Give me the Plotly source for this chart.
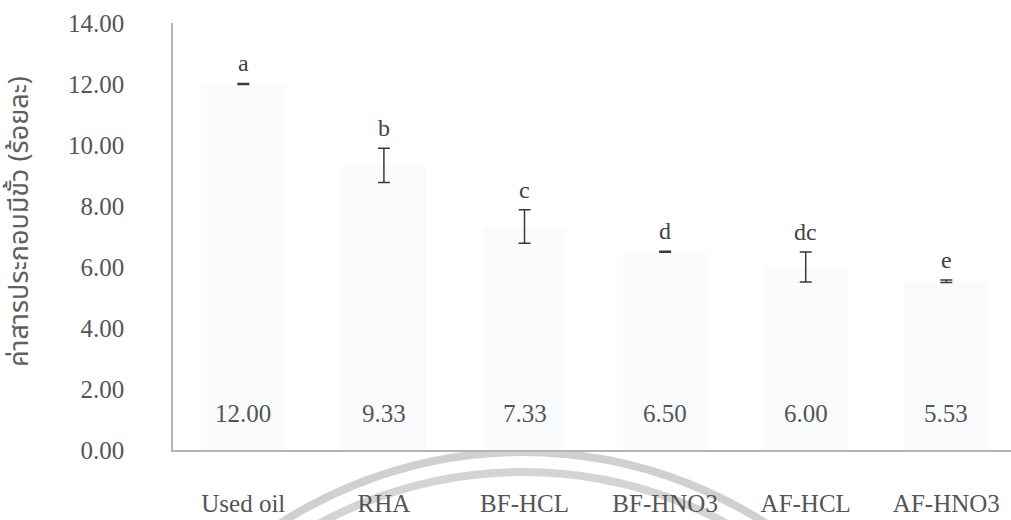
import plotly.graph_objects as go

categories = ["Used oil", "RHA", "BF-HCL", "BF-HNO3", "AF-HCL", "AF-HNO3"]
values = [12.00, 9.33, 7.33, 6.50, 6.00, 5.53]
errors = [0.02, 0.56, 0.55, 0.02, 0.49, 0.04]
letters = ["a", "b", "c", "d", "dc", "e"]
y_ticks = [0, 2, 4, 6, 8, 10, 12, 14]
y_title = "ค่าสารประกอบมีขั้ว (ร้อยละ)"

SERIF = "Liberation Serif"
TXT = "#555555"

fig = go.Figure()
fig.add_trace(go.Bar(
    x=categories, y=values,
    marker=dict(color="#fafbfd", line=dict(width=0)),
    width=0.6,
    error_y=dict(type="data", array=errors, visible=True,
                 color="#3a3a3a", thickness=1.5, width=6),
    hoverinfo="skip",
))

# value labels near the base of each bar
for c, v in zip(categories, values):
    fig.add_annotation(x=c, y=1.2, text=f"{v:.2f}", showarrow=False,
                       font=dict(family=SERIF, size=25, color=TXT),
                       xanchor="center", yanchor="middle")

# significance letters above error bars
for c, v, e, l in zip(categories, values, errors, letters):
    fig.add_annotation(x=c, y=v + e, text=l, showarrow=False,
                       font=dict(family=SERIF, size=24, color="#444444"),
                       xanchor="center", yanchor="bottom", yshift=5)

# y-axis title (Thai)
L, R, T, B, W, H = 173, 0, 23, 70, 1011, 520
pw, ph = W - L - R, H - T - B
fig.add_annotation(xref="paper", yref="paper",
                   x=(20 - L) / pw, y=(T + ph - 222) / ph,
                   text=y_title, textangle=-90, showarrow=False,
                   font=dict(family="Noto Sans Thai, Tlwg Typo, Loma, Garuda, sans-serif",
                             size=27, color="#606060"),
                   xanchor="center", yanchor="middle")

# faint watermark arcs at the bottom
def px2paper_x(px):
    return (px - L) / pw

def px2paper_y(py):
    return (T + ph - py) / ph

for r, col in [(448, "#d0d0d0"), (428, "#d4d4d4")]:
    cx, cy = 523, 900
    fig.add_shape(type="circle", xref="paper", yref="paper",
                  x0=px2paper_x(cx - r), x1=px2paper_x(cx + r),
                  y0=px2paper_y(cy + r), y1=px2paper_y(cy - r),
                  line=dict(color=col, width=8), layer="below")

fig.update_layout(
    width=W, height=H,
    margin=dict(l=L, r=R, t=T, b=B, autoexpand=False),
    paper_bgcolor="white", plot_bgcolor="white",
    showlegend=False,
    bargap=0.4,
    xaxis=dict(range=[-0.5, 5.46], showline=True, linecolor="#b4b4b4", linewidth=1.5,
               showgrid=False, zeroline=False, ticks="", automargin=False,
               tickfont=dict(family=SERIF, size=25, color=TXT),
               ticklabelstandoff=30),
    yaxis=dict(range=[0, 14], tickvals=y_ticks,
               ticktext=[f"{t:.2f}" for t in y_ticks],
               showline=True, linecolor="#b4b4b4", linewidth=1.5,
               showgrid=False, zeroline=False, ticks="", automargin=False,
               tickfont=dict(family=SERIF, size=25, color=TXT),
               ticklabelstandoff=42),
)

fig.write_html("out.html")
